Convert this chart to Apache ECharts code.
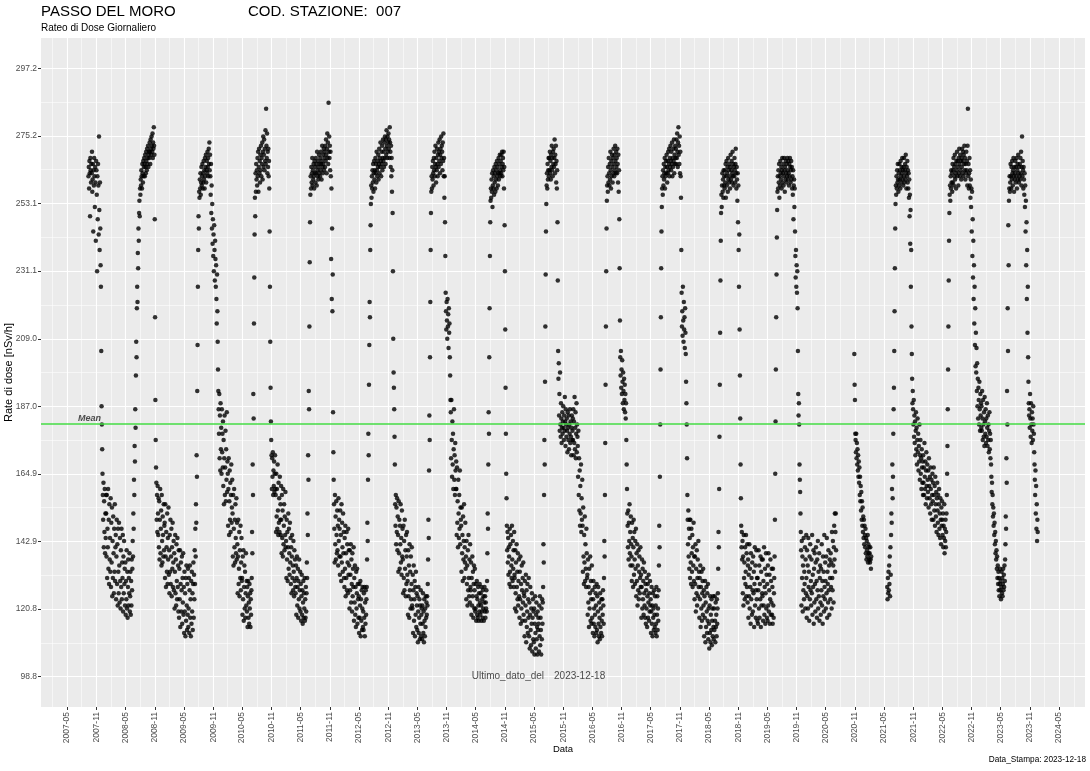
<!DOCTYPE html>
<html><head><meta charset="utf-8">
<script src="https://cdn.jsdelivr.net/npm/echarts@6/dist/echarts.min.js"></script>
<style>html,body{margin:0;padding:0;background:#fff}#c{width:1090px;height:771px}</style>
</head><body><div id="c"></div>
<script>
// ---- texts ----
const STATION = 'PASSO DEL MORO';
const STATION_CODE = 'COD. STAZIONE:  007';
const SUBTITLE = 'Rateo di Dose Giornaliero';
const LAST_DATE = '2023-12-18';
const PRINT_DATE = '2023-12-18';
const MEAN_DOSE = 181.3;
// ---- tick labels ----
const Y_TICKS = [98.8,120.8,142.9,164.9,187.0,209.0,231.1,253.1,275.2,297.2];
const X_TICKS = ['2007-05','2007-11','2008-05','2008-11','2009-05','2009-11','2010-05','2010-11','2011-05','2011-11','2012-05','2012-11','2013-05','2013-11','2014-05','2014-11','2015-05','2015-11','2016-05','2016-11','2017-05','2017-11','2018-05','2018-11','2019-05','2019-11','2020-05','2020-11','2021-05','2021-11','2022-05','2022-11','2023-05','2023-11','2024-05'];
// ---- daily dose rate (nSv/h), one row per ~month, one reading every 2 days from day 30*row ----
const v2007 = [[],[],[],[],[],[],[],[],
 [null,null,null,null,null,null,null,262,265,258,267,263,249,268,264],
 [260,266,263,270,257,261,266,244,264,259,268,262,252,265,260],
 [241,267,264,256,231,262,248,266,259,243,275,251,238,260,245],
 [233,226,205,187,181,173,165,158,150,162,141,156,146,160,139,152,144,158]];
const v2008 = [
 [152,138,158,131,147,141,160,134,150,129,155,137,144,133,157],
 [128,149,136,154,125,143,131,151,139,126,147,133,155,130,141],
 [145,124,138,150,129,142,122,147,133,126,149,135,123,144,130],
 [121,140,128,147,124,136,131,145,120,138,126,143,129,134,122],
 [136,119,130,124,140,121,133,118,128,137,122,131,126,139,120],
 [125,133,119,130,122,137,127,134,143,138,152,147,163,158,174],
 [169,186,180,197,208,203,219,226,221,237,232,245,241,250,254],
 [249,258,256,261,259,264,262,258,266,263,260,267,262,265,268],
 [266,262,269,265,263,270,267,264,271,266,268,272,265,269,270],
 [268,273,270,266,274,271,269,275,272,270,276,268,273,271,278],
 [272,269,248,216,189,176,167,162,150,158,146,161,152,145,157],
 [141,156,137,150,160,139,147,153,135,158,143,136,151,145,138,155,140,148]];
const v2009 = [
 [149,131,155,138,128,146,141,133,152,129,144,137,154,132,140],
 [126,145,133,150,129,138,147,125,141,134,149,128,136,143,127],
 [139,121,133,145,126,137,122,142,130,124,144,128,135,120,140],
 [118,134,124,140,115,129,136,120,127,138,116,131,123,139,119],
 [128,113,133,120,126,112,131,117,135,122,114,129,119,134,115],
 [121,131,113,127,135,118,124,112,130,116,133,120,126,114,129],
 [136,118,132,124,140,129,147,138,155,149,171,164,192,207,226],
 [238,249,245,257,255,261,258,263,256,260,265,259,262,266,258],
 [263,260,267,261,264,258,268,262,265,269,260,264,267,263,270],
 [265,268,262,271,266,273,264,269,262,256,266,250,259,245,253],
 [240,248,236,243,231,246,238,228,241,235,226,233,222,214,230],
 [218,208,199,192,186,178,191,170,184,166,188,173,180,165,186,172,178,167]];
const v2010 = [
 [182,161,176,155,170,184,158,167,179,156,173,163,185,159,169],
 [165,148,160,170,145,156,166,150,162,146,158,168,149,154,163],
 [152,138,158,135,147,160,141,150,136,155,144,139,157,137,149],
 [142,126,138,150,129,134,146,125,140,131,148,127,136,144,130],
 [131,119,138,124,140,117,128,135,121,133,118,126,139,122,130],
 [120,128,115,125,130,118,123,116,129,121,126,115,124,119,127],
 [131,146,139,168,158,191,183,214,229,243,255,249,263,257,266],
 [261,264,259,268,262,270,257,265,271,263,267,260,269,264,272],
 [262,268,266,273,261,270,275,265,269,274,264,271,267,277,266],
 [284,272,268,276,263,270,265,271,262,267,258,244,226,208,193],
 [182,176,171,160,170,164,172,158,166,161,169,159,165,171,160],
 [158,146,165,151,160,147,168,153,145,162,149,157,146,164,150,155,145,161]];
const v2011 = [
 [150,139,158,144,153,138,160,142,148,155,140,151,145,159,141],
 [143,131,150,137,146,130,141,152,134,147,139,132,149,136,144],
 [129,141,126,138,145,131,135,127,143,133,125,140,130,137,128],
 [126,135,119,131,138,122,128,134,118,130,124,137,121,127,133],
 [120,129,117,125,132,119,127,116,123,130,118,126,121,131,117],
 [124,118,128,120,126,136,131,152,145,171,163,192,186,213,234],
 [247,256,262,258,265,260,263,268,259,264,261,266,262,258,267],
 [263,265,260,268,263,266,259,270,264,262,267,261,265,269,263],
 [266,262,268,264,270,266,261,267,272,265,263,269,266,271,264],
 [268,270,265,272,267,274,269,263,271,276,268,273,266,286,270],
 [275,268,272,264,270,262,235,258,222,245,218,230,185,172,163],
 [155,147,136,158,142,151,137,156,145,139,153,140,148,135,157,143,150,138]];
const v2012 = [
 [147,132,153,138,145,130,155,136,149,141,133,152,139,146,131],
 [128,144,134,148,125,139,131,146,127,142,136,126,147,132,140],
 [135,121,140,127,132,142,123,137,129,120,139,125,134,128,141],
 [117,131,123,135,119,128,115,133,121,126,134,116,129,124,118],
 [125,113,129,118,122,130,112,124,117,127,114,121,128,115,120],
 [114,126,118,128,112,123,116,127,119,124,128,137,149,143,163],
 [178,171,194,207,221,216,238,246,253,259,255,262,258,264,260],
 [266,257,263,267,261,264,258,268,263,266,260,270,264,262,267],
 [265,269,261,266,271,263,268,265,273,267,262,270,266,272,264],
 [268,274,267,270,265,273,268,275,271,266,274,269,277,272,268],
 [275,270,273,276,271,274,268,278,273,270,265,272,262,268,257],
 [264,250,231,209,198,193,186,177,168,155,148,158,142,154,146,157,140,151]];
const v2013 = [
 [145,133,156,139,150,134,148,142,155,136,144,132,153,138,147],
 [137,126,148,131,143,127,150,134,140,125,145,129,138,146,132],
 [130,119,140,125,135,118,142,127,133,121,138,124,129,141,122],
 [121,132,113,127,135,117,124,130,112,128,119,133,115,126,122],
 [114,125,110,120,128,113,118,124,111,122,116,127,112,119,121],
 [111,122,116,126,113,120,110,124,117,112,121,115,125,118,123],
 [119,125,122,129,137,150,144,166,184,176,203,221,238,250,257],
 [262,258,265,261,267,263,259,268,264,270,262,266,272,265,260],
 [268,264,271,266,262,269,273,265,270,267,274,263,269,271,266],
 [275,268,272,270,264,273,267,276,262,268,255,262,247,236,224],
 [218,212,221,215,209,222,213,217,206,219,211,214,203,197,189],
 [185,170,189,176,164,182,168,178,160,173,186,163,171,158,175,166,160,169]];
const v2014 = [
 [160,145,167,149,156,141,163,152,144,158,147,166,142,154,150],
 [148,133,154,139,145,130,151,137,143,155,131,141,136,149,134],
 [138,124,143,129,135,122,140,127,145,131,125,137,123,142,128],
 [127,136,119,131,122,138,125,133,118,129,135,121,127,134,120],
 [121,129,117,125,130,119,124,118,128,122,117,126,120,129,123],
 [119,126,122,117,128,120,124,118,127,121,125,117,123,128,120],
 [125,118,123,121,127,120,130,139,152,147,168,185,178,203,219],
 [236,247,254,258,255,261,257,263,252,259,264,258,262,256,265],
 [260,263,257,266,261,264,258,267,262,265,259,263,268,261,266],
 [263,269,264,262,267,263,269,265,270,262,266,268,264,270,258],
 [265,246,231,212,193,178,165,157,148,140,146,136,144,132,141],
 [138,129,147,133,142,128,145,135,131,148,137,130,143,134,140,128,146,132]];
const v2015 = [
 [131,121,140,126,136,120,142,128,133,124,139,122,130,137,125],
 [118,133,124,138,116,129,121,135,127,117,131,123,136,119,126],
 [125,112,130,117,122,132,110,127,115,120,129,113,124,118,131],
 [112,123,108,119,128,114,109,121,116,126,107,118,124,111,120],
 [110,121,106,116,125,113,108,119,123,111,115,106,120,114,118],
 [116,107,122,112,125,109,118,114,106,121,111,124,116,123,128],
 [142,136,158,176,168,195,213,230,244,253,259,263,258,266,261],
 [264,268,262,268,264,270,263,267,261,269,265,272,264,268,262],
 [270,266,271,265,268,274,263,269,266,272,260,267,258,264,247],
 [228,205,196,201,184,191,179,198,181,177,188,183,175,180,185],
 [178,182,187,180,176,184,179,190,182,174,186,181,177,183,179],
 [172,185,180,176,184,173,181,178,186,175,182,177,171,180,184,176,179,183]];
const v2016 = [
 [176,186,171,182,175,190,173,180,185,170,178,188,172,181,177],
 [174,164,179,158,170,153,166,148,161,152,168,146,157,150,163],
 [148,133,154,138,129,145,136,151,130,142,134,128,147,139,131],
 [132,119,137,123,128,115,134,121,126,138,117,130,124,116,135],
 [118,127,113,124,130,116,121,112,128,119,115,126,122,113,129],
 [114,125,110,120,128,116,112,123,118,111,126,115,121,113,124],
 [117,112,124,119,127,122,116,131,143,138,158,175,194,213,231],
 [245,254,259,262,257,265,260,268,263,259,266,261,270,264,258],
 [267,262,269,265,260,268,263,271,266,262,269,264,272,267,263],
 [270,265,268,263,271,266,260,269,257,264,248,232,215,203,197],
 [205,193,199,191,202,195,188,198,192,186,196,189,194,185,191],
 [183,188,176,168,160,152,148,141,153,137,149,143,155,139,146,135,151,142]];
const v2017 = [
 [138,130,149,135,144,128,141,150,132,146,137,129,143,134,147],
 [125,139,130,142,122,135,127,140,124,133,138,126,131,141,128],
 [132,118,128,137,121,134,124,130,119,136,126,122,133,118,129],
 [116,127,121,131,115,125,129,118,123,132,117,126,120,130,122],
 [124,113,120,128,116,122,112,126,118,121,114,127,119,115,125],
 [113,122,116,128,112,119,125,114,121,117,127,135,148,141,164],
 [181,199,216,232,244,252,258,262,256,264,259,266,261,263,268],
 [258,265,262,267,263,269,265,260,267,263,270,264,266,271,262],
 [268,265,272,267,264,270,266,273,262,268,265,271,267,274,263],
 [269,266,272,268,271,266,274,268,276,270,265,273,278,269,272],
 [266,275,263,270,262,255,238,224,213,218,210,226,215,208,221],
 [212,216,206,219,211,204,195,188,181,170,158,150,142,153,138,147,134,150]];
const v2018 = [
 [144,131,150,136,129,147,139,133,145,128,141,135,149,130,138],
 [124,138,129,142,120,134,126,140,122,131,137,125,143,128,133],
 [118,131,124,135,115,128,121,133,117,126,130,119,134,122,127],
 [112,125,118,130,110,123,115,128,120,113,126,117,129,111,121],
 [116,108,122,113,125,110,119,114,124,109,117,121,112,125,115],
 [111,121,114,125,117,110,123,115,119,112,124,116,121,126,134],
 [146,141,160,177,194,211,228,241,250,256,252,259,263,257,261],
 [255,264,259,262,258,264,260,266,255,262,267,259,263,265,257],
 [268,261,264,260,266,262,258,265,269,261,264,267,260,263,270],
 [262,266,259,265,262,268,264,260,266,271,263,258,265,261,254],
 [263,247,259,238,226,243,212,197,183,168,157,148,141,146,137],
 [143,126,138,122,145,131,136,124,141,129,133,145,125,139,128,142,123,135]];
const v2019 = [
 [137,118,132,125,142,121,134,128,116,139,124,131,119,136,127],
 [120,138,126,133,115,129,141,122,135,118,127,140,124,131,117],
 [131,116,127,140,121,135,118,129,124,138,115,133,122,137,126],
 [125,137,117,130,122,141,119,128,134,116,126,139,121,132,118],
 [129,117,135,122,139,120,127,132,116,124,137,119,130,123,134],
 [119,128,116,134,122,118,126,131,138,150,165,182,199,216,230],
 [242,251,257,262,258,264,260,266,255,262,259,267,263,261,265],
 [258,264,268,260,263,266,259,262,268,264,257,265,261,267,263],
 [260,266,262,268,264,261,267,263,259,266,262,268,265,260,264],
 [267,261,265,258,262,256,264,248,259,261,252,258,244,236,229],
 [238,226,233,224,231,219,205,191,184,188,181,168,163,159,152],
 [146,140,122,143,131,138,120,135,127,144,124,133,129,141,121,137,126,145]];
const v2020 = [
 [131,118,140,125,135,121,144,128,133,117,138,124,142,127,130],
 [122,137,126,145,119,132,128,140,116,134,123,139,129,120,136],
 [141,124,130,118,137,127,143,121,133,125,139,117,131,135,123],
 [119,134,127,142,122,130,116,138,125,133,120,145,128,124,136],
 [130,121,138,126,144,118,133,129,123,140,127,135,119,137,131],
 [124,139,128,136,121,146,131,127,143,135,123,141,148,137,152],
 [133,146,152,140],
 [],[],[],
 [204,194,189,178,176,172,178,170,175,168,173,166,171,164,169],
 [162,167,158,164,156,161,153,159,150,156,148,154,146,151,144,150,142,148]];
const v2021 = [
 [145,141,147,139,144,137,143,140,138,145,136,142,139,141,137],
 [139,136,141,137,134,138],
 [],[],
 [null,null,null,null,null,null,null,null,null,null,128,124,131,126,133],
 [127,135,129,138,125,141,132,145,152,149,160,168,157,164,178],
 [186,193,205,218,232,245,253,259,256,262,258,264,260,266,261],
 [257,263,259,266,261,264,258,267,262,260,265,263,268,261,264],
 [259,265,262,268,260,264,266,261,269,263,258,265,262,267,260],
 [264,258,263,255,261,249,256,240,251,226,238,213,204,196,188],
 [192,186,181,189,177,184,175,182,171,179,185,173,180,168,176],
 [183,172,178,166,174,169,181,163,171,176,165,170,160,173,167,162,169,158]];
const v2022 = [
 [171,162,167,158,175,164,160,169,155,166,172,161,157,168,163],
 [159,166,154,170,161,157,164,152,167,160,155,163,150,158,165],
 [156,162,150,167,158,153,161,148,164,155,151,159,146,157,162],
 [153,149,158,145,155,160,147,152,144,157,150,142,154,148,156],
 [150,145,152,141,148,144,155,139,147,143,150,141,146,152,158],
 [165,174,186,199,213,228,241,250,256,259,254,262,258,264,260],
 [263,257,266,260,264,268,259,265,262,269,261,266,263,258,267],
 [264,270,262,267,265,259,268,263,271,266,262,269,264,267,261],
 [268,265,271,263,267,270,262,269,266,272,264,268,261,266,263],
 [270,264,267,259,272,284,262,266,258,263,268,259,264,255,261],
 [252,258,244,257,236,248,229,241,222,233,214,226,207,219,200],
 [211,198,206,192,201,187,196,183,193,189,181,195,186,179,191,184,188,180]];
const v2023 = [
 [187,179,192,183,176,189,181,177,185,174,190,182,178,186,175],
 [183,177,188,180,174,184,176,181,172,179,185,173,178,170,176],
 [168,164,159,162,155,158,151,154,148,152,145,149,142,146,139],
 [143,137,140,134,138,131,135,129,133,127,131,125,129,134,127],
 [130,124,128,133,126,131,125,129,134,127,132,128,135,130,137],
 [142,151,147,170,162,192,181,219,205,246,233,254,258,262,257],
 [260,266,262,258,265,261,267,263,259,264,268,262,257,265,261],
 [263,267,260,265,262,268,258,264,266,261,269,263,260,265,262],
 [266,261,268,263,270,259,265,275,262,267,264,258,265,261,256],
 [263,252,259,244,254,233,247,222,238,211,226,203,195,188,184],
 [186,180,191,183,177,188,181,175,185,179,183,176,187,181,178],
 [172,168,163,158,166,152,161,147,155,143,150,146]];
const YEARS = [[2007,v2007],[2008,v2008],[2009,v2009],[2010,v2010],[2011,v2011],[2012,v2012],[2013,v2013],[2014,v2014],[2015,v2015],[2016,v2016],[2017,v2017],[2018,v2018],[2019,v2019],[2020,v2020],[2021,v2021],[2022,v2022],[2023,v2023]];

const DAY = 864e5;
const points = [];
YEARS.forEach(([yr, rows]) => rows.forEach((row, m) => row.forEach((v, j) => {
  if (v == null) return;
  points.push([Date.UTC(yr, 0, 1) + (30 * m + 2 * j) * DAY, v]);
})));

const toTs = s => { const p = s.split('-').map(Number); return Date.UTC(p[0], p[1] - 1, p[2] || 1); };
const xMajor = X_TICKS.map(toTs);
const xMinor = [];
for (let i = 0; i < xMajor.length - 1; i++) xMinor.push((xMajor[i] + xMajor[i + 1]) / 2);
xMinor.unshift(xMajor[0] - (xMajor[1] - xMajor[0]) / 2);
xMinor.push(xMajor[xMajor.length - 1] + (xMajor[1] - xMajor[0]) / 2);
const yMinor = [];
for (let i = 0; i < Y_TICKS.length - 1; i++) yMinor.push((Y_TICKS[i] + Y_TICKS[i + 1]) / 2);

// ggplot-like 5% expansion of the scales
const yLo = Y_TICKS[0], yHi = Y_TICKS[Y_TICKS.length - 1];
const yPad = (yHi - yLo) * 0.05;
const firstData = points[0][0], lastData = toTs(LAST_DATE);
const xPad = (lastData - firstData) * 0.05;
const xMin = firstData - xPad, xMax = lastData + xPad;

const fmtX = v => { const d = new Date(v); return d.getUTCFullYear() + '-' + String(d.getUTCMonth() + 1).padStart(2, '0'); };
const FONT = 'Liberation Sans, Arial, sans-serif';

const chart = echarts.init(document.getElementById('c'), null, { renderer: 'canvas' });
chart.setOption({
  animation: false,
  textStyle: { fontFamily: FONT },
  title: [
    { text: STATION, left: 41, top: 4, padding: 0, textStyle: { fontSize: 15, fontWeight: 'normal', color: '#000', fontFamily: FONT } },
    { text: STATION_CODE, left: 248, top: 4, padding: 0, textStyle: { fontSize: 15, fontWeight: 'normal', color: '#000', fontFamily: FONT } },
    { text: SUBTITLE, left: 41, top: 23, padding: 0, textStyle: { fontSize: 10, fontWeight: 'normal', color: '#000', fontFamily: FONT } },
    { text: 'Data_Stampa: ' + PRINT_DATE, right: 4, top: 756, padding: 0, textStyle: { fontSize: 8.25, fontWeight: 'normal', color: '#000', fontFamily: FONT } }
  ],
  grid: { left: 41, right: 5, top: 38, bottom: 64, show: true, backgroundColor: '#EBEBEB', borderWidth: 0, containLabel: false, outerBoundsMode: 'none' },
  xAxis: [
    { type: 'value', min: xMin, max: xMax, scale: true,
      axisLine: { show: false },
      axisTick: { show: true, length: 3, lineStyle: { color: '#333', width: 1 }, customValues: xMajor },
      axisLabel: { customValues: xMajor, rotate: 90, fontSize: 8.5, color: '#4D4D4D', margin: 5, formatter: fmtX, fontFamily: FONT },
      splitLine: { show: true, lineStyle: { color: '#FFFFFF', width: 1.1 } },
      name: 'Data', nameLocation: 'middle', nameGap: 37, nameMoveOverlap: false,
      nameTextStyle: { fontSize: 9.5, color: '#000', fontFamily: FONT } },
    { type: 'value', min: xMin, max: xMax, scale: true, position: 'bottom',
      axisLine: { show: false }, axisLabel: { show: false },
      axisTick: { show: false, customValues: xMinor },
      splitLine: { show: true, lineStyle: { color: '#FFFFFF', width: 0.55 } } }
  ],
  yAxis: [
    { type: 'value', min: yLo - yPad, max: yHi + yPad,
      axisLine: { show: false },
      axisTick: { show: true, length: 3, lineStyle: { color: '#333', width: 1 }, customValues: Y_TICKS },
      axisLabel: { customValues: Y_TICKS, fontSize: 8.5, color: '#4D4D4D', margin: 4, formatter: v => Number(v).toFixed(1), fontFamily: FONT },
      splitLine: { show: true, lineStyle: { color: '#FFFFFF', width: 1.1 } },
      name: 'Rate di dose [nSv/h]', nameLocation: 'middle', nameRotate: 90, nameGap: 27, nameMoveOverlap: false,
      nameTextStyle: { fontSize: 11, color: '#000', fontFamily: FONT } },
    { type: 'value', min: yLo - yPad, max: yHi + yPad, position: 'left',
      axisLine: { show: false }, axisLabel: { show: false },
      axisTick: { show: false, customValues: yMinor },
      splitLine: { show: true, lineStyle: { color: '#FFFFFF', width: 0.55 } } }
  ],
  series: [
    { type: 'scatter', name: 'dose', data: points, symbol: 'circle', symbolSize: 4.5,
      itemStyle: { color: '#000' }, progressive: 0, silent: true, z: 3,
      markLine: { silent: true, symbol: ['none', 'none'], label: { show: false },
        lineStyle: { color: '#44DD44', width: 1.5, type: 'solid' },
        data: [{ yAxis: MEAN_DOSE }] } },
    { type: 'scatter', data: [[toTs('2007-09-19'), MEAN_DOSE]], symbolSize: 0, silent: true, z: 4,
      label: { show: true, position: 'top', distance: 1, formatter: 'Mean', fontStyle: 'italic', fontWeight: 'bold',
        fontSize: 9, color: '#222', fontFamily: FONT } },
    { type: 'scatter', data: [[toTs('2015-05-30'), yLo]], symbolSize: 0, silent: true, z: 4,
      label: { show: true, position: 'inside', formatter: '{a|Ultimo_dato_del}   {b|' + LAST_DATE + '}',
        rich: { a: { fontSize: 10, color: '#1a1a1a', fontFamily: FONT }, b: { fontSize: 10, color: '#1a1a1a', fontFamily: FONT } } } }
  ]
});
</script></body></html>
